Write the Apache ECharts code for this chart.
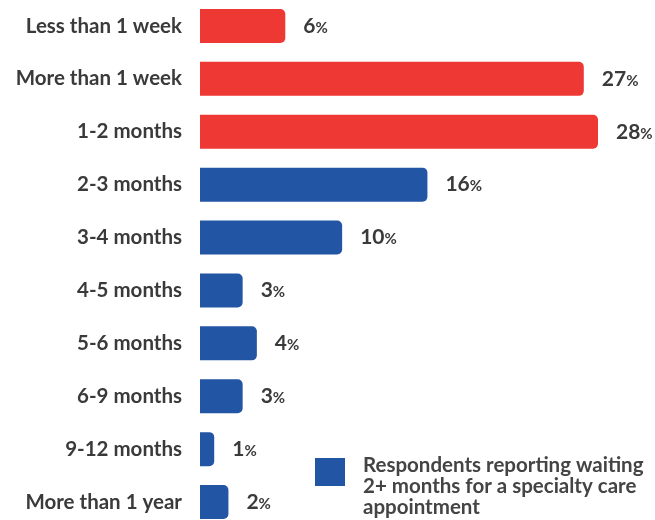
<!DOCTYPE html>
<html><head><meta charset="utf-8">
<script src="https://cdn.jsdelivr.net/npm/echarts@6/dist/echarts.min.js"></script>
<style>html,body{margin:0;padding:0;background:#fff}#c{width:655px;height:520px}</style>
</head><body><div id="c"></div>
<script>
const categories = ["Less than 1 week","More than 1 week","1-2 months","2-3 months","3-4 months","4-5 months","5-6 months","6-9 months","9-12 months","More than 1 year"];
const values = [6,27,28,16,10,3,4,3,1,2];
const isLongWait = [false,false,false,true,true,true,true,true,true,true];
const legendText = "Respondents reporting waiting\n2+ months for a specialty care\nappointment";
const RED = "#EE3833", BLUE = "#2255A4";

const redData = values.map((v,i)=> isLongWait[i] ? null : v);
const blueData = values.map((v,i)=> isLongWait[i] ? v : null);

const labelCfg = {
  show: true, position: 'right', distance: 18,
  formatter: p => '{a|' + p.value + '}{b|%}',
  rich: {
    a: {fontFamily:'Lato', fontWeight:'bold', fontSize:21, color:'#3a3a3a'},
    b: {fontFamily:'Lato', fontWeight:'bold', fontSize:15, color:'#3a3a3a', padding:[4,0,0,0]}
  }
};

const chart = echarts.init(document.getElementById('c'));
chart.setOption({
  animation:false,
  grid:{left:200, top:-0.5, width:398, height:529, containLabel:false, outerBoundsMode:'none'},
  xAxis:{type:'value', min:0, max:28, show:false},
  yAxis:{type:'category', inverse:true, data:categories,
    axisLine:{show:false}, axisTick:{show:false}, splitLine:{show:false},
    axisLabel:{margin:18, fontFamily:'Lato', fontWeight:'bold', fontSize:20.5, color:'#3a3a3a'}},
  graphic:[
    {type:'rect', left:315, top:458, shape:{width:30, height:28}, style:{fill:BLUE}},
    {type:'text', left:363, top:455, style:{text:legendText, font:'bold 20.5px Lato', fill:'#444', lineHeight:21}}
  ],
  series:[
    {name:'short', type:'bar', stack:'s', data:redData, barWidth:34,
     itemStyle:{color:RED, borderRadius:[0,5,5,0]}, label:labelCfg},
    {name:'long', type:'bar', stack:'s', data:blueData, barWidth:34,
     itemStyle:{color:BLUE, borderRadius:[0,5,5,0]}, label:labelCfg}
  ]
});
</script></body></html>
